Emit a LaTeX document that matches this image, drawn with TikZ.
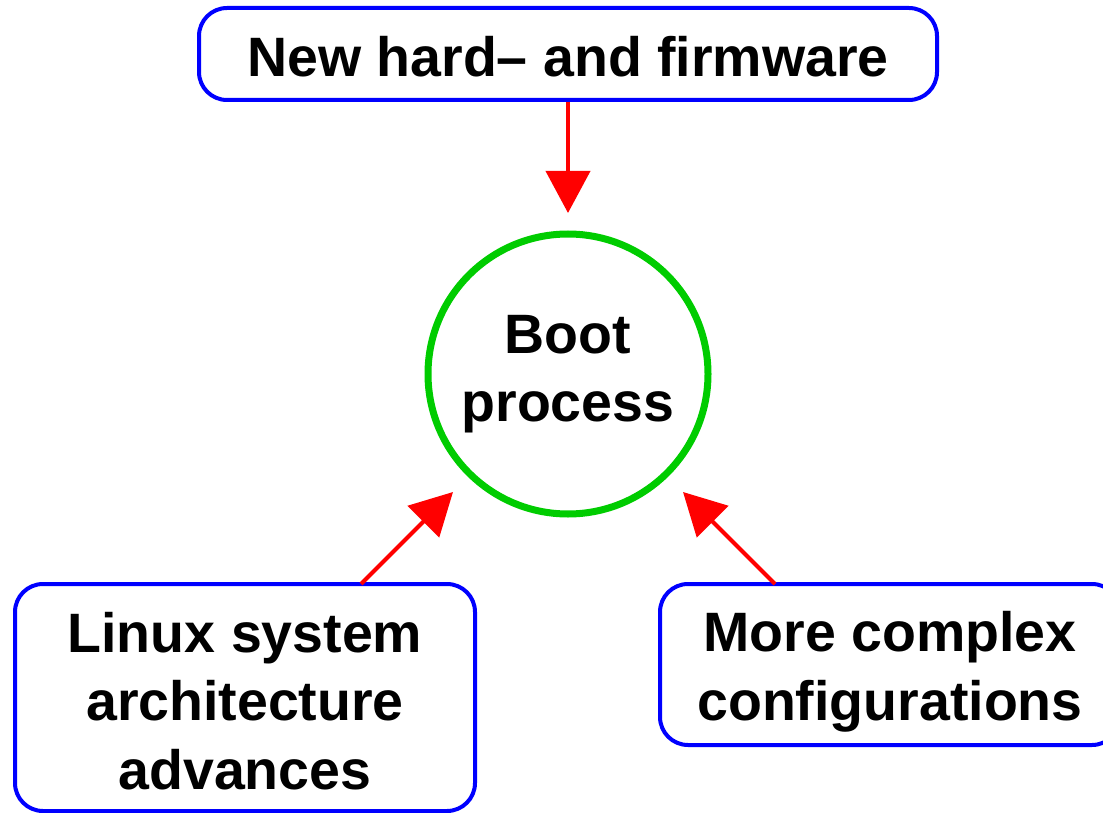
\documentclass[tikz,border=0pt]{standalone}
\usepackage{fontspec}
\setmainfont{Liberation Sans}
\usetikzlibrary{arrows.meta}
\definecolor{boxblue}{RGB}{0,0,255}
\definecolor{ringgreen}{RGB}{0,204,0}
\definecolor{flowred}{RGB}{255,0,0}
\tikzset{
  topic/.style={draw=boxblue, line width=4pt, rounded corners=28pt, inner sep=0pt},
  caption/.style={align=center, inner sep=0pt,
    font=\fontsize{55.5}{68.5}\selectfont\bfseries},
  hub/.style={draw=ringgreen, line width=7pt, circle, minimum size=280pt, align=center,
    font=\fontsize{55.5}{68.5}\selectfont\bfseries, inner sep=0pt},
  flow/.style={draw=flowred, line width=4pt, -{Triangle[length=42pt,width=44pt]}}
}
\begin{document}
\begin{tikzpicture}[x=1pt,y=-1pt]
  \useasboundingbox (0,0) rectangle (1103,813);
  % the three driving factors: frames
  \node[topic, minimum width=738pt, minimum height=92pt] (hw) at (568,54) {};
  \node[topic, minimum width=460pt, minimum height=227pt] (linux) at (245,697.5) {};
  \node[topic, minimum width=460pt, minimum height=161pt] (config) at (890,664.5) {};
  % the three driving factors: texts
  \node[caption] (hwtext) at (568,57) {New hard-- and firmware};
  \node[caption] (linuxtext) at (245,701) {Linux system\\architecture\\advances};
  \node[caption] (configtext) at (890,672) {More complex\\configurations};
  % central topic
  \node[hub] (boot) at (568,374) {Boot\\process};
  % arrow ends
  \coordinate (hwtip) at (568,213);
  \coordinate (lfoot) at (361,584);
  \coordinate (ltip) at (453,492);
  \coordinate (rfoot) at (775,584);
  \coordinate (rtip) at (683,492);
  \draw[flow] (hw.south) -- (hwtip);
  \draw[flow] (lfoot) -- (ltip);
  \draw[flow] (rfoot) -- (rtip);
\end{tikzpicture}
\end{document}
